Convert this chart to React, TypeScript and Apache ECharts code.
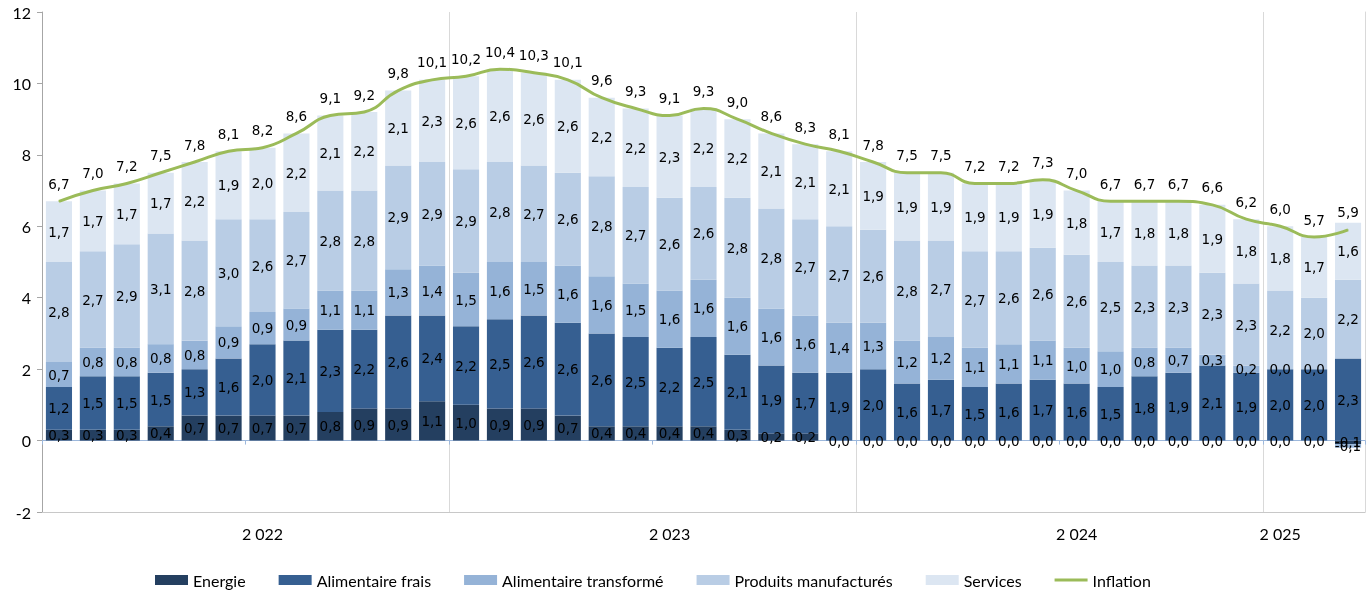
import React, { useEffect, useRef } from "react";
import * as echarts from "echarts";

const months: string[] = [
  "2022-01","2022-02","2022-03","2022-04","2022-05","2022-06","2022-07","2022-08","2022-09","2022-10","2022-11","2022-12",
  "2023-01","2023-02","2023-03","2023-04","2023-05","2023-06","2023-07","2023-08","2023-09","2023-10","2023-11","2023-12",
  "2024-01","2024-02","2024-03","2024-04","2024-05","2024-06","2024-07","2024-08","2024-09","2024-10","2024-11","2024-12",
  "2025-01","2025-02","2025-03",
];

const yearLabels: string[] = ["2 022", "2 023", "2 024", "2 025"];
const yearLabelIndex: number[] = [6, 18, 30, 36];

const energie: number[] = [
  0.3,0.3,0.3,0.4,0.7,0.7,0.7,0.7,0.8,0.9,0.9,1.1,
  1.0,0.9,0.9,0.7,0.4,0.4,0.4,0.4,0.3,0.2,0.2,0.0,
  0.0,0.0,0.0,0.0,0.0,0.0,0.0,0.0,0.0,0.0,0.0,0.0,
  0.0,0.0,-0.1,
];
const alimFrais: number[] = [
  1.2,1.5,1.5,1.5,1.3,1.6,2.0,2.1,2.3,2.2,2.6,2.4,
  2.2,2.5,2.6,2.6,2.6,2.5,2.2,2.5,2.1,1.9,1.7,1.9,
  2.0,1.6,1.7,1.5,1.6,1.7,1.6,1.5,1.8,1.9,2.1,1.9,
  2.0,2.0,2.3,
];
const alimTransf: number[] = [
  0.7,0.8,0.8,0.8,0.8,0.9,0.9,0.9,1.1,1.1,1.3,1.4,
  1.5,1.6,1.5,1.6,1.6,1.5,1.6,1.6,1.6,1.6,1.6,1.4,
  1.3,1.2,1.2,1.1,1.1,1.1,1.0,1.0,0.8,0.7,0.3,0.2,
  0.0,0.0,-0.1,
];
const manuf: number[] = [
  2.8,2.7,2.9,3.1,2.8,3.0,2.6,2.7,2.8,2.8,2.9,2.9,
  2.9,2.8,2.7,2.6,2.8,2.7,2.6,2.6,2.8,2.8,2.7,2.7,
  2.6,2.8,2.7,2.7,2.6,2.6,2.6,2.5,2.3,2.3,2.3,2.3,
  2.2,2.0,2.2,
];
const services: number[] = [
  1.7,1.7,1.7,1.7,2.2,1.9,2.0,2.2,2.1,2.2,2.1,2.3,
  2.6,2.6,2.6,2.6,2.2,2.2,2.3,2.2,2.2,2.1,2.1,2.1,
  1.9,1.9,1.9,1.9,1.9,1.9,1.8,1.7,1.8,1.8,1.9,1.8,
  1.8,1.7,1.6,
];
const inflation: number[] = [
  6.7,7.0,7.2,7.5,7.8,8.1,8.2,8.6,9.1,9.2,9.8,10.1,
  10.2,10.4,10.3,10.1,9.6,9.3,9.1,9.3,9.0,8.6,8.3,8.1,
  7.8,7.5,7.5,7.2,7.2,7.3,7.0,6.7,6.7,6.7,6.6,6.2,
  6.0,5.7,5.9,
];

const fmt = (v: number) => v.toFixed(1).replace(".", ",");

export default function App() {
  const ref = useRef<HTMLDivElement>(null);
  useEffect(() => {
    document.body.style.margin = "0";
    const chart = echarts.init(ref.current!, undefined, { renderer: "svg" });
    const labelFont = {
      fontFamily: "DejaVu Sans",
      fontSize: 13.5,
      color: "#000",
    };
    const barSeries = (name: string, data: number[], color: string) => ({
      name,
      type: "bar",
      stack: "total",
      data,
      barCategoryGap: "23%",
      itemStyle: { color },
      label: {
        show: true,
        position: "inside",
        ...labelFont,
        formatter: (p: any) => fmt(p.value),
      },
    });
    chart.setOption({
      animation: false,
      grid: { left: 42, right: 6, top: 12, bottom: 84, containLabel: false },
      legend: {
        bottom: 3,
        left: 150,
        itemWidth: 33,
        itemHeight: 10,
        itemGap: 33,
        textStyle: { fontFamily: "Lato", fontSize: 16, color: "#000" },
        data: [
          { name: "Energie", icon: "rect" },
          { name: "Alimentaire frais", icon: "rect" },
          { name: "Alimentaire transformé", icon: "rect" },
          { name: "Produits manufacturés", icon: "rect" },
          { name: "Services", icon: "rect" },
          { name: "Inflation", icon: "path://M0 0 H33 V3 H0 Z" },
        ],
      },
      xAxis: [
        {
          type: "category",
          data: months,
          position: "bottom",
          axisLine: { onZero: false, lineStyle: { color: "#c8c8c8", width: 1 } },
          axisTick: { show: false },
          axisLabel: {
            interval: (idx: number) => yearLabelIndex.includes(idx),
            formatter: (_v: string, idx: number) => {
              const k = yearLabelIndex.indexOf(idx);
              return k >= 0 ? yearLabels[k] : "";
            },
            fontFamily: "Lato",
            fontSize: 16,
            color: "#000",
            margin: 13,
          },
          splitLine: { show: true, interval: 11, lineStyle: { color: "#d9d9d9", width: 1 } },
        },
        {
          type: "category",
          data: months,
          position: "bottom",
          axisLine: { onZero: true, lineStyle: { color: "#9db8dc", width: 1 } },
          axisTick: { show: true, interval: 5, alignWithLabel: false, length: 4, lineStyle: { color: "#9db8dc" } },
          axisLabel: { show: false },
          splitLine: { show: false },
        },
      ],
      yAxis: [
        {
          type: "value",
          min: -2,
          max: 12,
          interval: 2,
          axisLine: { show: true, lineStyle: { color: "#a6a6a6" } },
          axisTick: { show: true, length: 5, lineStyle: { color: "#a6a6a6" } },
          axisLabel: { fontFamily: "Lato", fontSize: 16, color: "#000", margin: 11 },
          splitLine: { show: false },
        },
        {
          type: "value",
          min: -2,
          max: 12,
          interval: 2,
          position: "right",
          axisLine: { show: true, lineStyle: { color: "#d9d9d9" } },
          axisTick: { show: false },
          axisLabel: { show: false },
          splitLine: { show: false },
        },
      ],
      series: [
        barSeries("Energie", energie, "#243f60"),
        barSeries("Alimentaire frais", alimFrais, "#365f91"),
        barSeries("Alimentaire transformé", alimTransf, "#95b3d7"),
        barSeries("Produits manufacturés", manuf, "#b9cde5"),
        barSeries("Services", services, "#dce6f2"),
        {
          name: "Inflation",
          type: "line",
          data: inflation,
          smooth: 0.5,
          symbol: "circle",
          symbolSize: 1,
          showSymbol: true,
          showAllSymbol: true,
          lineStyle: { color: "#9bbb59", width: 3 },
          itemStyle: { color: "#9bbb59" },
          label: {
            show: true,
            position: "top",
            distance: 10,
            ...labelFont,
            formatter: (p: any) => fmt(p.value),
          },
          z: 5,
        },
      ],
    });
    return () => chart.dispose();
  }, []);
  return (
    <div
      ref={ref}
      style={{ position: "fixed", left: 0, top: 0, width: 1371, height: 596 }}
    />
  );
}
